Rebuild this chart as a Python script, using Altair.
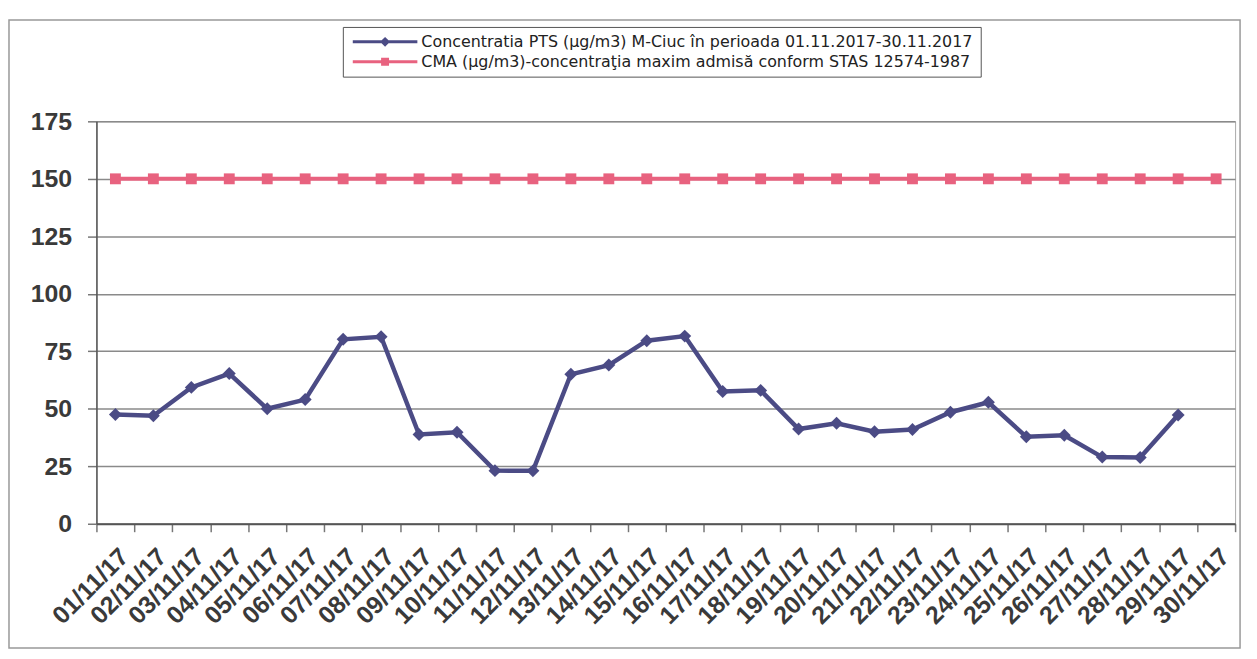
import altair as alt
import pandas as pd

dates = ["01/11/17", "02/11/17", "03/11/17", "04/11/17", "05/11/17", "06/11/17",
         "07/11/17", "08/11/17", "09/11/17", "10/11/17", "11/11/17", "12/11/17",
         "13/11/17", "14/11/17", "15/11/17", "16/11/17", "17/11/17", "18/11/17",
         "19/11/17", "20/11/17", "21/11/17", "22/11/17", "23/11/17", "24/11/17",
         "25/11/17", "26/11/17", "27/11/17", "28/11/17", "29/11/17", "30/11/17"]
pts = [47.5, 47.0, 59.3, 65.3, 50.0, 54.0, 80.2, 81.3, 38.8, 39.8, 23.1, 23.0,
       65.0, 69.0, 79.6, 81.6, 57.5, 58.0, 41.2, 43.7, 40.0, 41.0, 48.5, 52.8,
       37.8, 38.5, 29.0, 28.8, 47.3, None]
cma = [150, 150, 150, 150, 150, 150, 150, 150, 150, 150, 150, 150, 150, 150, 150,
       150, 150, 150, 150, 150, 150, 150, 150, 150, 150, 150, 150, 150, 150, 150]
y_ticks = [0, 25, 50, 75, 100, 125, 150, 175]

S_PTS = "Concentratia PTS (µg/m3) M-Ciuc în perioada 01.11.2017-30.11.2017"
S_CMA = "CMA (µg/m3)-concentraţia maxim admisă conform STAS 12574-1987"
series_names = [S_PTS, S_CMA]
BLUE = "#4B4B85"
PINK = "#E8627F"
colors = [BLUE, PINK]

rows = []
for d, v in zip(dates, pts):
    rows.append({"date": d, "value": v, "series": S_PTS})
for d, v in zip(dates, cma):
    rows.append({"date": d, "value": v, "series": S_CMA})
df = pd.DataFrame(rows)

FONT = "Liberation Sans"

x_enc = alt.X("date:N", sort=dates,
              scale=alt.Scale(type="band", paddingInner=0, paddingOuter=0),
              axis=alt.Axis(title=None, labelAngle=-45, labelFontSize=25,
                            labelFontWeight="bold",
                            labelFont=FONT, labelColor="#3a3a3a", tickBand="extent",
                            tickSize=8, tickColor="#777", tickWidth=1.5,
                            labelPadding=12, domainColor="#555", domainWidth=2,
                            grid=False, labelOverlap=False))
y_enc = alt.Y("value:Q", scale=alt.Scale(domain=[0, 175], nice=False, zero=True),
              axis=alt.Axis(title=None, values=y_ticks, labelFontSize=25,
                            labelFontWeight="bold",
                            labelFont=FONT, labelColor="#3a3a3a", tickSize=9,
                            tickColor="#777", tickWidth=1.5, labelPadding=16,
                            domainColor="#555", domainWidth=1.5, grid=True,
                            gridColor="#8a8a8a", gridWidth=1.5))

base = alt.Chart(df)
pts_data = base.transform_filter(alt.datum.series == S_PTS).transform_filter(
    "isValid(datum.value)")
cma_data = base.transform_filter(alt.datum.series == S_CMA)

line_pts = pts_data.mark_line(color=BLUE, strokeWidth=4.5).encode(x=x_enc, y=y_enc)
line_cma = cma_data.mark_line(color=PINK, strokeWidth=4).encode(x=x_enc, y=y_enc)
mk_pts = pts_data.mark_point(filled=True, shape="diamond", size=170, opacity=1,
                             color=BLUE).encode(x=x_enc, y=y_enc)
mk_cma = cma_data.mark_point(filled=True, shape="square", size=120, opacity=1,
                             color=PINK).encode(x=x_enc, y=y_enc)

# legend-only layer (points of size 0): symbols are line + marker paths
path_pts = "M-1,-0.3H12V0.3H-1Z M4.5,0L5.5,-1L6.5,0L5.5,1Z"
path_cma = "M-1,-0.3H12V0.3H-1Z M4.7,-0.8H6.3V0.8H4.7Z"
leg = dict(title=None, orient="none", legendX=248, legendY=-95, direction="vertical",
           labelFont="DejaVu Sans", labelFontSize=16, labelColor="#222",
           labelOffset=56, symbolSize=100, symbolStrokeWidth=0, symbolOpacity=1,
           rowPadding=4, padding=7, strokeColor="#555", labelLimit=900)
legend_layer = base.mark_point(filled=True, size=0).encode(
    x=x_enc, y=y_enc,
    fill=alt.Fill("series:N", scale=alt.Scale(domain=series_names, range=colors),
                  legend=alt.Legend(**leg)),
    shape=alt.Shape("series:N", scale=alt.Scale(domain=series_names,
                                                range=[path_pts, path_cma]),
                    legend=alt.Legend(**leg)),
)

border = alt.Chart(pd.DataFrame({"a": [0]})).mark_rect(
    fill="white", fillOpacity=0, stroke="#999", strokeWidth=1.5
).encode(x=alt.value(-88), x2=alt.value(1151), y=alt.value(-102), y2=alt.value(530))

chart = alt.layer(border, line_cma, line_pts, mk_cma, mk_pts, legend_layer).properties(
    width=1146, height=405,
    autosize=alt.AutoSizeParams(type="none"),
    padding={"left": 89, "top": 112, "right": 14, "bottom": 126},
).configure_view(stroke="#aaa", strokeWidth=1)

chart.save("out.html", embed_options={"renderer": "svg", "actions": False})
